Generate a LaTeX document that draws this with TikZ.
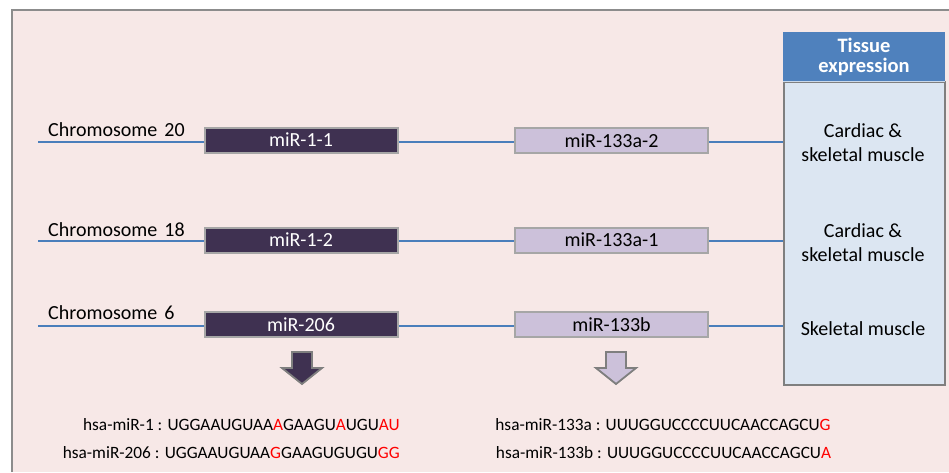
\documentclass[tikz,border=0pt]{standalone}
\usepackage{fontspec}
\setmainfont{Carlito}
\usetikzlibrary{positioning}

\definecolor{bgpink}{HTML}{F7E8E7}
\definecolor{framegray}{HTML}{8C8C8C}
\definecolor{chromline}{HTML}{4A7EBB}
\definecolor{darkmir}{HTML}{3F3151}
\definecolor{lightmir}{HTML}{CCC1DA}
\definecolor{boxedge}{HTML}{A6A6A6}
\definecolor{headblue}{HTML}{4F81BD}
\definecolor{bodyblue}{HTML}{DCE6F2}
\definecolor{tissueedge}{HTML}{7F7F7F}
\definecolor{seqred}{HTML}{FF0000}

\tikzset{
  mirbox/.style={draw=boxedge, line width=2pt, minimum width=193pt, minimum height=25pt,
    inner sep=0pt, font=\fontsize{20}{22}\selectfont},
  mirdark/.style={mirbox, fill=darkmir, text=white},
  mirlight/.style={mirbox, fill=lightmir, text=black},
  chrom/.style={draw=chromline, line width=1.6pt},
  chromlabel/.style={anchor=base west, inner sep=0pt, font=\fontsize{20}{22}\selectfont},
  tissuetext/.style={align=center, inner sep=0pt, font=\fontsize{20}{24}\selectfont},
  seqtext/.style={inner sep=0pt, font=\fontsize{17.3}{20}\selectfont},
  blockarrow/.style={draw=tissueedge, line width=1.8pt, line join=miter},
}
\newcommand{\rd}[1]{\textcolor{seqred}{#1}}

\begin{document}
\begin{tikzpicture}[x=1pt, y=-1pt]
  % canvas and panel frame
  \fill[white] (0,0) rectangle (949,472);
  \useasboundingbox (0,0) rectangle (949,472);
  \fill[bgpink] (12,10) rectangle (949,472);
  \draw[framegray, line width=2pt] (12,472) -- (12,10) -- (949,10);

  % tissue expression column
  \node[draw=tissueedge, line width=2pt, fill=bodyblue, minimum width=161pt, minimum height=303pt,
        inner sep=0pt, anchor=north west] (tissue) at (783,81) {};
  \node[draw=headblue, line width=1pt, fill=headblue, minimum width=161pt, minimum height=48pt,
        inner sep=0pt, anchor=south west, text=white, align=center,
        font=\fontsize{20.5}{20}\selectfont\bfseries] (head) at (783,81) {Tissue\\expression};
  \draw[white!70!headblue, line width=1pt] (head.south west) -- (head.south east);

  % chromosome lines
  \coordinate (s20) at (38,142);
  \coordinate (s18) at (38,241);
  \coordinate (s6)  at (38,326);
  \draw[chrom] (s20) -- (tissue.west |- s20);
  \draw[chrom] (s18) -- (tissue.west |- s18);
  \draw[chrom] (s6)  -- (tissue.west |- s6);

  % chromosome labels
  \node[chromlabel] (l20) at (48,136) {Chromosome\hspace{7pt}20};
  \node[chromlabel] (l18) at (48,236) {Chromosome\hspace{7pt}18};
  \node[chromlabel] (l6)  at (48,319) {Chromosome\hspace{7pt}6};

  % miRNA boxes
  \node[mirdark]  (m11)   at (301,140) {miR-1-1};
  \node[mirdark]  (m12)   at (301,240) {miR-1-2};
  \node[mirdark]  (m206)  at (301,324.5) {miR-206};
  \node[mirlight] (m1332) at (611.5,140.5) {miR-133a-2};
  \node[mirlight] (m1331) at (611.5,240) {miR-133a-1};
  \node[mirlight] (m133b) at (611.5,324.5) {miR-133b};

  % tissue labels
  \node[tissuetext] (t1) at (863,143) {Cardiac \&\\skeletal muscle};
  \node[tissuetext] (t2) at (863,242.5) {Cardiac \&\\skeletal muscle};
  \node[tissuetext] (t3) at (863,329) {Skeletal muscle};

  % block arrows
  \draw[blockarrow, fill=darkmir] (292,352) -- (312,352) -- (312,368) -- (322,368) -- (302,384)
        -- (282,368) -- (292,368) -- cycle;
  \draw[blockarrow, fill=lightmir] (606,352) -- (626,352) -- (626,368) -- (636,368) -- (616,384)
        -- (596,368) -- (606,368) -- cycle;

  % mature sequences
  \node[seqtext, anchor=base east] (q1) at (400,430)
    {hsa-miR-1 : UGGAAUGUAA\rd{A}GAAGU\rd{A}UGU\rd{AU}};
  \node[seqtext, anchor=base east] (q206) at (400,458.5)
    {hsa-miR-206 : UGGAAUGUAA\rd{G}GAAGUGUGU\rd{GG}};
  \node[seqtext, anchor=base] (q133a) at (663,430)
    {hsa-miR-133a : UUUGGUCCCCUUCAACCAGCU\rd{G}};
  \node[seqtext, anchor=base] (q133b) at (663.5,458.5)
    {hsa-miR-133b : UUUGGUCCCCUUCAACCAGCU\rd{A}};
\end{tikzpicture}
\end{document}
